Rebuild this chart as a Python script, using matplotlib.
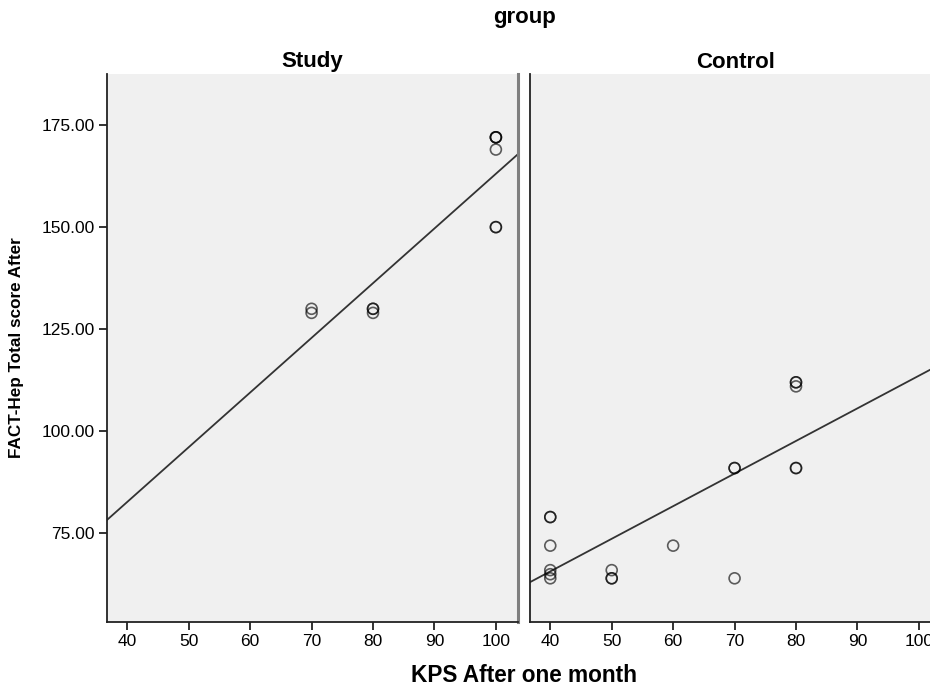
import numpy as np
import matplotlib
matplotlib.use('Agg')
import matplotlib.pyplot as plt

plt.rcParams['font.family'] = ['Liberation Sans', 'DejaVu Sans']

# KPS after one month (x) and FACT-Hep total score after (y), per group
study_kps = [70, 70, 80, 80, 80, 100, 100, 100, 100, 100, 100]
study_fact = [129, 130, 129, 130, 130, 172, 172, 172, 169, 150, 150]

control_kps = [40, 40, 40, 40, 40, 40, 50, 50, 50, 60, 70, 70, 70,
               80, 80, 80, 80, 80]
control_fact = [79, 79, 72, 66, 65, 64, 66, 64, 64, 72, 91, 91, 64,
                112, 112, 111, 91, 91]

groups = ['Study', 'Control']
x_ticks = [40, 50, 60, 70, 80, 90, 100]
y_ticks = [75, 100, 125, 150, 175]
xlim = (36.7, 103.6)
ylim = (53.3, 187.5)

bg = '#f0f0f0'
W, H = 930, 688

fig = plt.figure(figsize=(W / 100, H / 100), dpi=100)
ax1 = fig.add_axes([107 / W, 66 / H, 411 / W, 548 / H])
ax2 = fig.add_axes([530 / W, 66 / H, 411 / W, 548 / H])

for ax, name, xs, ys in [(ax1, groups[0], study_kps, study_fact),
                         (ax2, groups[1], control_kps, control_fact)]:
    xs = np.array(xs, dtype=float)
    ys = np.array(ys, dtype=float)
    ax.set_facecolor(bg)
    ax.scatter(xs, ys, s=62, facecolors='none', edgecolors='black',
               alpha=0.62, linewidths=1.2, zorder=3)
    # linear fit line across the panel
    slope, intercept = np.polyfit(xs, ys, 1)
    lx = np.array(xlim)
    ax.plot(lx, intercept + slope * lx, color='#333333', lw=1.3, zorder=2)
    ax.set_xlim(*xlim)
    ax.set_ylim(*ylim)
    ax.set_xticks(x_ticks)
    ax.set_xticklabels([str(t) for t in x_ticks], fontsize=12.5)
    ax.set_yticks(y_ticks)
    ax.tick_params(direction='out', length=6, width=1.3, color='#222222',
                   pad=3)
    ax.spines['top'].set_visible(False)
    ax.spines['left'].set_color('#222222')
    ax.spines['bottom'].set_color('#222222')
    ax.spines['left'].set_linewidth(1.3)
    ax.spines['bottom'].set_linewidth(1.3)
    ax.spines['right'].set_color('#7f7f7f')
    ax.spines['right'].set_linewidth(2.2)
    pos = ax.get_position()
    fig.text((pos.x0 + pos.x1) / 2, 1 - 62 / H, name, ha='center',
             va='center', fontsize=16, fontweight='bold')

ax1.set_yticklabels([f'{t:.2f}' for t in y_ticks], fontsize=12.5)
ax2.tick_params(axis='y', left=False, labelleft=False)

fig.text(524 / W, 1 - 18 / H, 'group', ha='center', va='center',
         fontsize=16, fontweight='bold')
fig.text(524 / W, 1 - 675 / H, 'KPS After one month', ha='center',
         va='center', fontsize=16.3, fontweight='bold')
fig.text(17 / W, 1 - 348 / H, 'FACT-Hep Total score After', ha='center',
         va='center', rotation=90, fontsize=12.3, fontweight='bold')

fig.savefig('out.png', dpi=100, facecolor='white')
